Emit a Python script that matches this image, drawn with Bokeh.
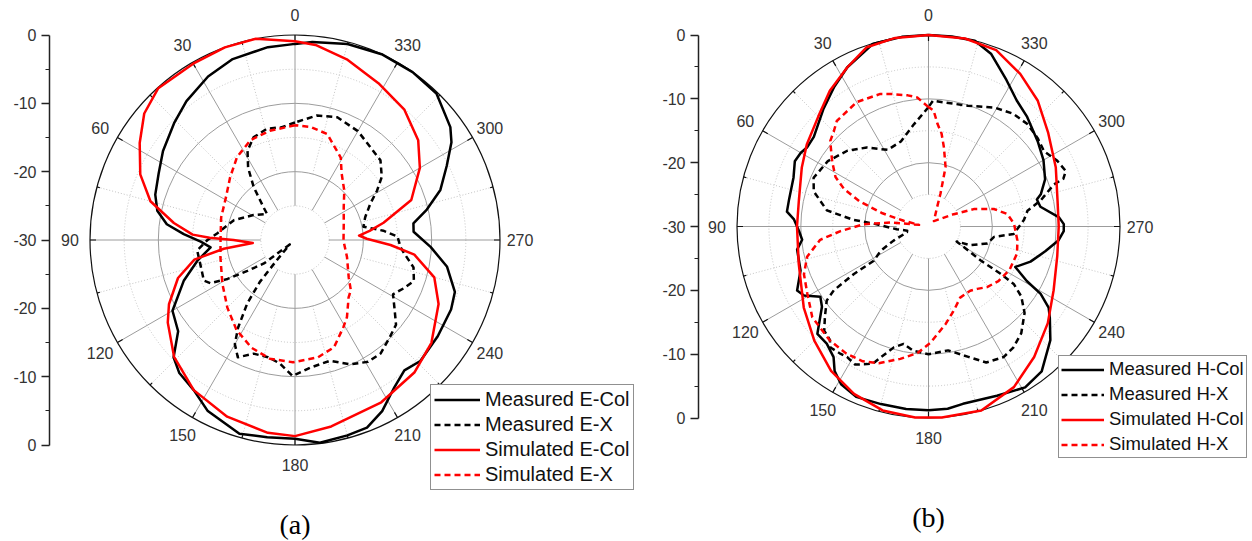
import numpy as np
from bokeh.plotting import figure
from bokeh.layouts import row
from bokeh.models import Range1d, LinearAxis, FixedTicker, Legend, LegendItem
from bokeh.core.properties import value
from bokeh.embed import file_html
from bokeh.resources import INLINE

# ---------------- (a) E-plane : angle (deg) / level (dB) ----------------
a_meas_col_ang = [0, 8, 19, 28, 38, 46, 56, 64, 72, 78, 83, 87, 91, 95, 102, 110, 120, 128, 134, 139,
                  146, 153, 164, 172, 180, 187, 195, 201, 207, 214, 220, 226, 236, 246, 252, 260, 267, 274, 278, 283,
                  289, 296, 302, 306, 316, 325, 335, 345, 355]
a_meas_col_db = [-1.3, -1.5, -2.0, -2.9, -4.2, -5.4, -6.7, -7.8, -8.5, -9.4, -11.1, -13.7, -16.2, -17.6, -15.4, -12.7, -9.3, -8.3, -5.3, -4.2,
                 -3.5, -1.9, -0.5, -0.85, -0.9, -0.1, -0.4, -0.6, -1.9, -4.0, -5.1, -4.5, -4.8, -5.0, -5.4, -7.4, -10.1, -12.6, -12.5, -10.2,
                 -7.5, -5.3, -3.0, -1.9, -0.2, 0, 0, -0.3, -0.9]

a_meas_x_ang = [0, 7, 14, 22, 28, 33, 38, 44, 47, 59, 72, 85, 90, 96, 104, 114, 117, 120, 123, 127,
                130, 138, 140, 143, 147, 150, 154, 160, 167, 173, 179, 187, 196, 204, 211, 217, 224, 230, 235, 241,
                246, 251, 257, 263, 266, 272, 276, 281, 288, 296, 301, 306, 313, 321, 330, 341, 350]
a_meas_x_db = [-12.8, -13.4, -13.2, -13.8, -15.2, -17.4, -20.2, -23.4, -24.4, -22.9, -20.6, -18.6, -17.2, -15.6, -15.7, -15.4, -16.1, -18.6, -21.7, -24.3,
               -29, -26, -22, -18.4, -14.7, -12.4, -10.9, -12.3, -12.4, -11.8, -10.1, -11.2, -11.6, -10.1, -9.2, -9.2, -10.1, -10.7, -12.2, -13.6,
               -12.6, -11.6, -12.2, -13.9, -14.5, -15, -17, -19.8, -19.2, -17.7, -16, -14.3, -12.9, -12.5, -11.6, -11, -11.5]

a_sim_col_ang = [0, 11, 20, 30, 42, 50, 58, 67, 75, 82, 87, 88.5, 90, 94, 97, 101, 108, 117, 123, 134,
                 146, 159, 172, 180, 191, 208, 222, 233, 246, 255, 263, 267, 271, 274, 277, 281, 289, 300, 309, 320,
                 332, 344, 354]
a_sim_col_db = [-0.9, 0, 0, -0.2, -0.1, -1.2, -3.2, -5.4, -8.1, -12.1, -15, -17.5, -21, -23.8, -19.5, -15, -12.0, -9.3, -7.8, -5.4,
                -3.5, -2.3, -1.5, -1.3, -2.2, -3.1, -3.9, -5.0, -7.0, -8.9, -12.4, -16, -19.5, -20.6, -19, -16.8, -12.0, -8.9, -6.8, -5.1,
                -4.0, -2.5, -1.3]

a_sim_x_ang = [0, 13, 24, 35, 46, 58, 73, 88, 103, 121, 135, 147, 158, 168, 179, 191, 200, 209, 214, 223,
               228, 235, 252, 269, 288, 304, 315, 325, 331, 343, 352]
a_sim_x_db = [-13.2, -13.6, -14.0, -15.2, -16.8, -18.1, -18.7, -19.1, -18.8, -17.6, -16.0, -14.3, -13.0, -12.25, -12.1, -12.5, -13.3, -15.4, -16.4, -18.5,
              -19, -20.4, -22, -22.9, -22.5, -21.4, -19.8, -18.1, -16.2, -13.8, -13.3]

# ---------------- (b) H-plane : angle (deg) / level (dB) ----------------
b_meas_col_ang = [0, 8, 17, 27, 34, 42, 52, 57, 60, 64, 70, 79, 84, 87, 92, 96, 100, 109, 116, 119,
                  123, 127, 134, 139, 144, 147, 151, 157, 165, 173, 180, 186, 191, 202, 211, 218, 227, 233, 236, 239,
                  241, 245, 251, 258, 264, 268, 271, 274, 280, 284, 286, 292, 300, 308, 318, 325, 332, 340, 346, 353]
b_meas_col_db = [0, 0, -0.1, -2.0, -3.6, -5.35, -7.2, -7.3, -6.9, -6.7, -7.5, -7.75, -7.7, -8.9, -9.7, -10.1, -9.1, -8.8, -7.1, -7.7,
                 -9.8, -9.1, -5.8, -5.7, -4.7, -3.0, -1.75, -1.0, -1.2, -1.2, -1.2, -1.3, -1.7, -1.4, -0.6, -1.2, -3.9, -6.2, -7.3, -9.5,
                 -12.4, -15.0, -13.1, -11.3, -9.5, -8.8, -8.8, -9.5, -12.2, -12.5, -11.7, -10.3, -9.2, -8.3, -6.9, -5.9, -4.0, -1.25, 0, 0]

b_meas_x_ang = [0, 8, 18, 28, 38, 47, 57, 67, 73, 81, 85, 87, 95, 101, 105, 112, 117, 122, 122.5, 124,
                126, 131, 135, 139, 141, 145, 148, 152, 156, 158, 160, 164, 168, 173, 180, 189, 197, 203, 210, 215,
                221, 228, 233, 236, 236.7, 237, 242, 246, 254, 261, 265, 274, 279, 283, 288.5, 289.5, 292, 297, 303, 309,
                316, 323, 331, 342, 358]
b_meas_x_db = [-11.3, -13.8, -16, -16.4, -14.3, -12.6, -11.2, -10.45, -11.2, -13.9, -18.25, -21.4, -25, -26.6, -26.5, -24.1, -21.6, -19.9, -16.15, -12.1,
               -10.3, -8.5, -6.9, -6.45, -5.6, -5.75, -5.9, -5.5, -6.4, -6.85, -8.2, -10.3, -11.2, -10.4, -10, -10.35, -8.65, -6.85, -6.4, -6.85,
               -7.85, -9.75, -11.8, -13.9, -16.5, -20.3, -25, -22.8, -20.4, -19.6, -16.6, -15, -14.3, -12, -9.3, -7.6, -6.8, -7.35, -8.4, -8.0,
               -7.7, -7.9, -8.7, -10.1, -10.3]

b_sim_col_ang = [0, 10, 19, 27, 36, 45, 56, 65, 79, 90, 106, 123, 135, 146, 156, 166, 176, 184, 196, 208,
                 219, 231, 243, 257, 270, 281, 295, 308, 319, 329, 339, 349]
b_sim_col_db = [0, 0, -0.3, -2.0, -3.7, -5.6, -7.0, -8.1, -9.3, -9.4, -8.85, -6.7, -4.7, -2.7, -1.3, -0.3, 0, 0, 0, -1.5,
                -3.7, -5.95, -8.0, -9.3, -9.6, -9.4, -8.0, -6.2, -3.9, -2.1, -0.4, 0]

b_sim_x_ang = [0, 5, 9, 16, 20, 30, 41, 45, 49, 56, 62, 66, 70, 74, 77, 80, 84, 88, 93, 97,
               104, 111, 119, 128, 139, 147, 154, 160, 168, 175, 181, 190, 197, 204, 213, 218, 224, 232, 242, 253,
               261, 272, 279, 285, 291, 296, 315, 336, 340, 344, 349, 352, 355, 357.5]
b_sim_x_db = [-11.3, -9.7, -9.2, -8.4, -7.9, -7.5, -8.1, -9.0, -9.6, -11.8, -13.5, -15.5, -18.5, -22.5, -26, -28.5, -24, -19.85, -16.2, -12.9,
              -10.4, -9.1, -8.3, -6.9, -6.4, -6.3, -6.5, -7.2, -8.8, -10.1, -11.8, -14.5, -16.3, -17.8, -18, -17.6, -16.8, -16.1, -15.6, -15.5,
              -15.9, -16.6, -17.5, -19.4, -22.4, -25.6, -28.8, -26.7, -24.5, -20.3, -17.35, -15.3, -13.85, -11.8]

a_labels = ["Measured E-Col", "Measured E-X", "Simulated E-Col", "Simulated E-X"]
b_labels = ["Measured H-Col", "Measured H-X", "Simulated H-Col", "Simulated H-X"]
panel_tags = ["(a)", "(b)"]

DB_MIN, DB_MAX = -30, 0
radial_major = [-30, -20, -10, 0, 10, 20, 30]
radial_minor = [-25, -15, -5, 5, 15, 25]
angle_ticks = list(range(0, 360, 30))
angle_labels = [str(a) for a in angle_ticks]

SANS = "Liberation Sans"
SERIF = "Liberation Serif"
H = 541
SPAN = DB_MAX - DB_MIN


def to_xy(ang, db):
    t = np.radians(np.append(ang, ang[0]))
    r = np.clip(np.append(db, db[0]) - DB_MIN, 0, SPAN)
    return (-r * np.sin(t)).tolist(), (r * np.cos(t)).tolist()


def panel(width, border, cx, cy, rpx, curves, labels, leg, tag, tag_py):
    k = rpx / SPAN
    p = figure(width=width, height=H,
               x_range=Range1d((border - cx) / k, (width - cx) / k),
               y_range=Range1d(-(H - cy) / k, cy / k),
               x_axis_location=None, y_axis_location=None,
               toolbar_location=None, output_backend="svg",
               min_border_left=border, min_border_right=0, min_border_top=0, min_border_bottom=0,
               outline_line_color=None, background_fill_color="white", border_fill_color="white")
    p.grid.visible = False

    ax = LinearAxis(ticker=FixedTicker(ticks=radial_major, minor_ticks=radial_minor),
                    bounds=(-SPAN, SPAN),
                    major_label_overrides={t: str(abs(t) + DB_MIN) for t in radial_major},
                    axis_line_color="#222222", axis_line_width=1.5,
                    major_tick_line_color="#222222", major_tick_line_width=1.5,
                    minor_tick_line_color="#222222", minor_tick_line_width=1.2,
                    major_tick_in=0, major_tick_out=8, minor_tick_in=0, minor_tick_out=4,
                    major_label_standoff=5,
                    major_label_text_font=SANS, major_label_text_font_size="16px",
                    major_label_text_color="#333333")
    p.add_layout(ax, "left")

    # grid circles
    p.circle(x=[0, 0], y=[0, 0], radius=[10, 20], fill_color=None,
             line_color="#9c9c9c", line_width=1)
    p.circle(x=[0, 0, 0], y=[0, 0, 0], radius=[5, 15, 25], fill_color=None,
             line_color="#c4c4c4", line_width=1, line_dash="1 2")
    # radial spokes
    ta = np.radians(angle_ticks)
    p.segment(x0=(-5 * np.sin(ta)).tolist(), y0=(5 * np.cos(ta)).tolist(),
              x1=(-SPAN * np.sin(ta)).tolist(), y1=(SPAN * np.cos(ta)).tolist(),
              line_color="#9c9c9c", line_width=1)
    tm = np.radians(np.array(angle_ticks) + 15)
    p.segment(x0=(-10 * np.sin(tm)).tolist(), y0=(10 * np.cos(tm)).tolist(),
              x1=(-SPAN * np.sin(tm)).tolist(), y1=(SPAN * np.cos(tm)).tolist(),
              line_color="#c4c4c4", line_width=1, line_dash="1 2")
    # outer circle and its ticks
    p.circle(x=[0], y=[0], radius=[SPAN], fill_color=None, line_color="#111111", line_width=1.2)
    rin = SPAN - 6 / k
    p.segment(x0=(-rin * np.sin(ta)).tolist(), y0=(rin * np.cos(ta)).tolist(),
              x1=(-SPAN * np.sin(ta)).tolist(), y1=(SPAN * np.cos(ta)).tolist(),
              line_color="#111111", line_width=1.2)
    rin2 = SPAN - 3 / k
    p.segment(x0=(-rin2 * np.sin(tm)).tolist(), y0=(rin2 * np.cos(tm)).tolist(),
              x1=(-SPAN * np.sin(tm)).tolist(), y1=(SPAN * np.cos(tm)).tolist(),
              line_color="#111111", line_width=1.2)
    # angle labels
    rl = SPAN + 20 / k
    p.text(x=(-rl * np.sin(ta)).tolist(), y=(rl * np.cos(ta)).tolist(), text=angle_labels,
           text_align="center", text_baseline="middle", text_font=value(SANS),
           text_font_size="16px", text_color="#333333")

    styles = [("#000000", "solid"), ("#000000", "6 4"), ("#ff0000", "solid"), ("#ff0000", "6 4")]
    rends = []
    for (ang, db), (col, dash) in zip(curves, styles):
        xs, ys = to_xy(ang, db)
        rends.append(p.line(xs, ys, line_color=col, line_width=2.5, line_dash=dash,
                            line_join="round"))

    legend = Legend(items=[LegendItem(label=l, renderers=[r]) for l, r in zip(labels, rends)],
                    location=leg["loc"], orientation="vertical",
                    border_line_color="#222222", border_line_width=1.2,
                    background_fill_color="white", background_fill_alpha=1.0,
                    label_text_font=SANS, label_text_font_size=leg["font"],
                    label_text_color="#111111",
                    glyph_width=leg["gw"], glyph_height=leg["gh"], label_height=leg["gh"],
                    spacing=leg["sp"], padding=leg["pad"], label_standoff=leg["so"], margin=0)
    p.add_layout(legend)

    p.text(x=[0], y=[-(tag_py - cy) / k], text=[tag], text_align="center",
           text_baseline="middle", text_font=value(SERIF), text_font_size="28px",
           text_color="#000000")
    return p


pa = panel(655, 49, 294.5, 239.5, 205,
           [(a_meas_col_ang, a_meas_col_db), (a_meas_x_ang, a_meas_x_db),
            (a_sim_col_ang, a_sim_col_db), (a_sim_x_ang, a_sim_x_db)],
           a_labels,
           dict(loc=(381, 51), font="20px", gw=46, gh=23, sp=2, pad=3, so=5),
           panel_tags[0], 524)

pb = panel(597, 43, 273, 226, 191.5,
           [(b_meas_col_ang, b_meas_col_db), (b_meas_x_ang, b_meas_x_db),
            (b_sim_col_ang, b_sim_col_db), (b_sim_x_ang, b_sim_x_db)],
           b_labels,
           dict(loc=(360, 83), font="18.5px", gw=43, gh=21, sp=3, pad=2, so=5),
           panel_tags[1], 517)

layout = row(pa, pb, spacing=0)
open("out.html", "w").write(file_html(layout, INLINE))
